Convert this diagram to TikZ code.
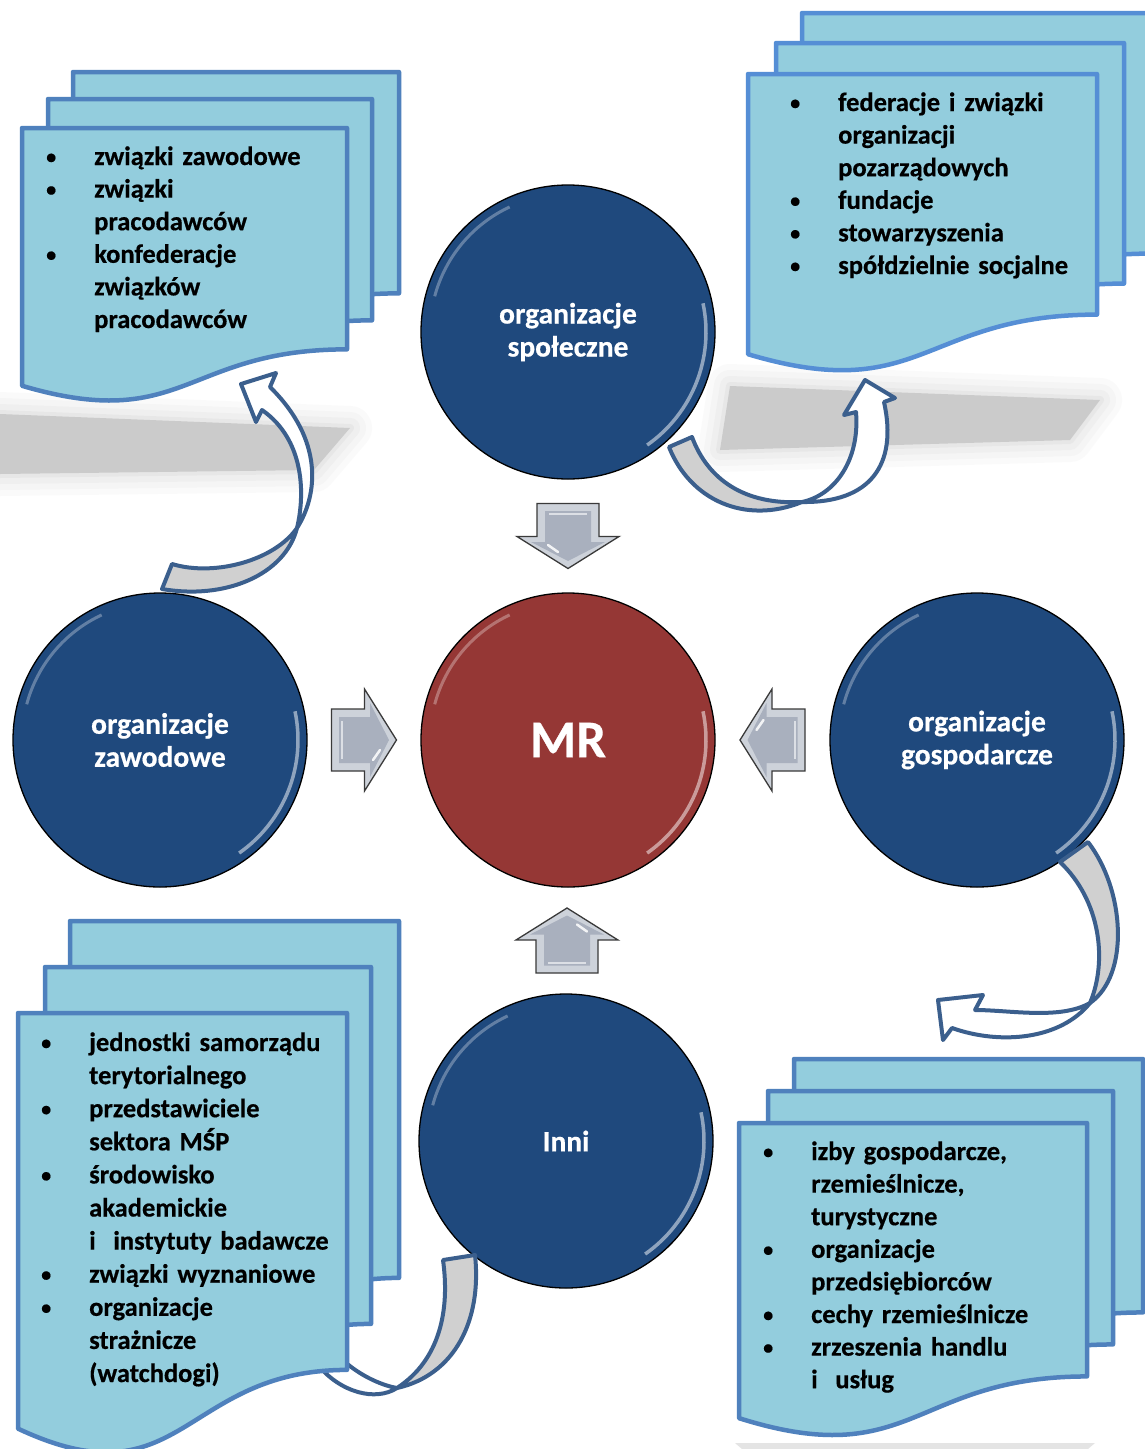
\documentclass[tikz,border=0pt]{standalone}
\usepackage{fontspec}
\setmainfont{Carlito}[BoldFont={Carlito Bold}, BoldFeatures={FakeBold=0.5}]
\usetikzlibrary{calc}

\definecolor{docfill}{HTML}{93CDDD}
\definecolor{docedge}{HTML}{4F81BD}
\definecolor{docedgelight}{HTML}{558ED5}
\definecolor{orgblue}{HTML}{1F497D}
\definecolor{mrred}{HTML}{953735}
\definecolor{ribbonedge}{HTML}{3B5F8D}
\definecolor{ribbongray}{HTML}{D0D0D0}
\definecolor{bevelface}{HTML}{A9B0BE}
\definecolor{bevellight}{HTML}{CDD2DA}
\definecolor{arrowedge}{HTML}{3A3A3A}
\definecolor{shadowgray}{HTML}{CBCBCB}

\newcommand\orgfont{\fontsize{29.5}{33}\selectfont\bfseries}
\newcommand\docfont{\fontsize{26.5}{32.6}\selectfont\bfseries}
\newcommand\mrfont{\fontsize{53}{58}\selectfont\bfseries}
\newcommand\itm{\makebox[0pt][r]{\raisebox{1.5pt}{\fontsize{20}{20}\selectfont\textbullet}\hspace{38pt}}}

% one sheet of a document stack: x, y, width, height, edge colour
\newcommand\docsheet[5]{%
  \filldraw[sheet, draw=#5] (#1,#2) -- ({#1+#3},#2) -- ({#1+#3},{#2+0.802*#4})
    .. controls ({#1+0.5*#3},{#2+0.802*#4}) and ({#1+0.5*#3},{#2+1.1075*#4}) .. (#1,{#2+0.934*#4}) -- cycle;}

% soft grey shadow under a stack
\newcommand\softshadow[1]{%
  \foreach \w/\o in {44/0.08,32/0.1,20/0.14,8/0.2}
    \draw[shadowgray, line width=\w pt, opacity=\o, line join=round] #1;
  \fill[shadowgray] #1;}

\tikzset{
  rim/.style={path picture={
    \draw[white, opacity=.5, line width=3.5pt] ([shift={(-12:138)}]path picture bounding box.center) arc (-12:55:138);
    \draw[white, opacity=.3, line width=3pt] ([shift={(195:138)}]path picture bounding box.center) arc (195:245:138);
  }},
  org/.style={circle, minimum size=294pt, inner sep=0pt, fill=orgblue, draw=black, line width=1.3pt,
    text=white, font=\orgfont, align=center, rim},
  sheet/.style={fill=docfill, line width=4.5pt, line join=round},
  doctext/.style={anchor=base west, inner sep=0pt, text width=300pt, align=left, font=\docfont},
  ribbon/.style={draw=ribbonedge, line width=4pt, line join=round},
  blockarrow/.pic={
    \filldraw[fill=bevellight, draw=arrowedge, line width=1.3pt]
      (-31,-32.5) -- (31,-32.5) -- (31,0.5) -- (51,0.5) -- (0,32.5) -- (-51,0.5) -- (-31,0.5) -- cycle;
    \fill[bevelface] (-23,-25) -- (23,-25) -- (23,6) -- (37,6) -- (0,25) -- (-37,6) -- (-23,6) -- cycle;
    \draw[white, line width=2.5pt, line cap=round, opacity=.85] (-20,9) -- (-10,16);
    \draw[white, line width=2pt, opacity=.6] (-19,-22) -- (19,-22);
  }
}

\begin{document}
\begin{tikzpicture}[x=1pt, y=-1pt]
\fill[white] (0,0) rectangle (1145,1449);
\useasboundingbox (0,0) rectangle (1145,1449);

% shadows
\softshadow{(0,414) -- (350,428) -- (314,470) -- (0,474) -- cycle}
\softshadow{(730,386) -- (1100,400) -- (1070,440) -- (720,450) -- cycle}
\fill[shadowgray, opacity=.5] (735,1443) -- (1095,1443) -- (1088,1449) -- (742,1449) -- cycle;

% circles
\node[org] (soc) at (568,332) {organizacje\\społeczne};
\node[org] (zaw) at (160,740) {organizacje\\zawodowe};
\node[org] (gosp) at (977,740) {organizacje\\gospodarcze};
\node[org] (inni) at (566,1141) {Inni};
\node[org, fill=mrred, font=\mrfont] (mr) at (568,740) {MR};

% block arrows into MR
\pic at ($(soc)!0.5!(mr)$) {blockarrow};
\pic[rotate=90] at ($(zaw)!0.5!(mr)$) {blockarrow};
\pic[rotate=-90] at ($(gosp)!0.5!(mr)$) {blockarrow};
\pic[rotate=180] at ($(inni)!0.5!(mr)$) {blockarrow};

% curved ribbons
\filldraw[ribbon, fill=ribbongray] (162,589) .. controls (225,600) and (285,575) .. (297,528)
  .. controls (275,560) and (215,577) .. (172,564) -- cycle;
\filldraw[ribbon, fill=white] (297,528) .. controls (318,495) and (324,440) .. (270,387)
  -- (276,373) -- (241,384) -- (256,422) -- (262,410) .. controls (305,440) and (305,495) .. (297,528) -- cycle;

\filldraw[ribbon, fill=ribbongray] (669,447) .. controls (690,500) and (745,525) .. (802,502)
  .. controls (745,505) and (708,480) .. (692,437) -- cycle;
\filldraw[ribbon, fill=white] (802,502) .. controls (870,503) and (898,465) .. (884,402)
  -- (895,398) -- (865,380) -- (844,415) -- (856,412) .. controls (860,460) and (835,495) .. (802,502) -- cycle;

\filldraw[ribbon, fill=ribbongray] (1088,842) .. controls (1125,890) and (1130,975) .. (1090,1003)
  .. controls (1108,960) and (1100,900) .. (1060,862) -- cycle;
\filldraw[ribbon, fill=white] (1090,1003) .. controls (1060,1020) and (1010,1010) .. (975,1010)
  -- (983,995) -- (938,1000) -- (943,1040) -- (952,1028) .. controls (1000,1045) and (1060,1040) .. (1090,1003) -- cycle;

\filldraw[ribbon, fill=ribbongray] (443,1260) .. controls (450,1310) and (440,1360) .. (397,1388)
  .. controls (455,1375) and (482,1320) .. (475,1255) -- cycle;
\filldraw[ribbon, fill=white] (397,1388) .. controls (380,1385) and (360,1375) .. (345,1362)
  -- (338,1340) -- (312,1340) -- (318,1365) .. controls (340,1392) and (375,1402) .. (397,1388) -- cycle;

% document stacks
\docsheet{73}{72}{326}{276}{docedge}
\docsheet{48}{99}{324}{276}{docedge}
\docsheet{22}{128}{325}{276}{docedge}

\docsheet{802}{13}{349}{300}{docedgelight}
\docsheet{776}{43}{348}{300}{docedgelight}
\docsheet{748}{74}{349}{300}{docedgelight}

\docsheet{70}{921}{329}{445}{docedge}
\docsheet{45}{967}{326}{445}{docedge}
\docsheet{18}{1013}{329}{445}{docedge}

\docsheet{794}{1059}{349}{316}{docedge}
\docsheet{768}{1091}{345}{316}{docedge}
\docsheet{739}{1123}{348}{316}{docedge}

% lists
\node[doctext] (zawlist) at (94,165)
  {\itm związki zawodowe\\ \itm związki\\ pracodawców\\ \itm konfederacje\\ związków\\ pracodawców};
\node[doctext] (soclist) at (838,111)
  {\itm federacje i związki\\ organizacji\\ pozarządowych\\ \itm fundacje\\ \itm stowarzyszenia\\ \itm spółdzielnie socjalne};
\node[doctext, font=\fontsize{26.5}{33.1}\selectfont\bfseries] (innilist) at (89,1051)
  {\itm jednostki samorządu\\ terytorialnego\\ \itm przedstawiciele\\ sektora MŚP\\ \itm środowisko\\ akademickie\\ i\ \ instytuty badawcze\\ \itm związki wyznaniowe\\ \itm organizacje\\ strażnicze\\ (watchdogi)};
\node[doctext] (gosplist) at (811,1160)
  {\itm izby gospodarcze,\\ rzemieślnicze,\\ turystyczne\\ \itm organizacje\\ przedsiębiorców\\ \itm cechy rzemieślnicze\\ \itm zrzeszenia handlu\\ i\ \ usług};
\end{tikzpicture}
\end{document}
